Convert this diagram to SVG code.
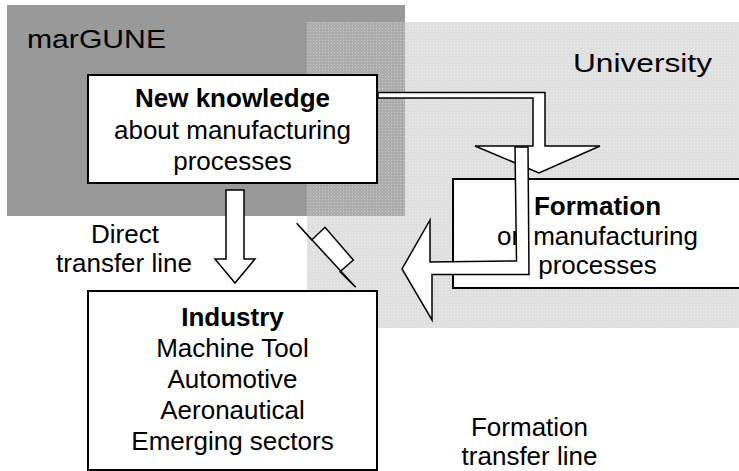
<svg xmlns="http://www.w3.org/2000/svg" width="739" height="471" viewBox="0 0 739 471">
  <defs>
    <pattern id="dots" width="3" height="3" patternUnits="userSpaceOnUse">
      <rect width="3" height="3" fill="#c0c0c0" fill-opacity="0.5"/>
      <rect x="1" y="1" width="1" height="1" fill="#ffffff" fill-opacity="0.35"/>
    </pattern>
  </defs>
  <style>
    text { font-family: "Liberation Sans", Arial, sans-serif; font-size: 26px; fill: #000; }
    .b { font-weight: bold; }
    .c { text-anchor: middle; }
    .box { fill: #fff; stroke: #000; stroke-width: 2; }
    .arr { fill: #fff; stroke: #000; stroke-width: 1.5; stroke-linejoin: miter; }
  </style>
  <rect width="739" height="471" fill="#fff"/>

  <g id="marGUNE">
    <rect x="7" y="5" width="398" height="211" fill="#999999"/>
    <text x="27" y="48" font-size="27" textLength="139" lengthAdjust="spacingAndGlyphs">marGUNE</text>
  </g>

  <g id="University">
    <rect x="307" y="22" width="440" height="306" fill="url(#dots)"/>
    <text x="573" y="72" font-size="27" textLength="139" lengthAdjust="spacingAndGlyphs">University</text>
  </g>

  <g id="new-knowledge">
    <rect class="box" x="88" y="75" width="289" height="108"/>
    <text class="b c" x="232.5" y="107">New knowledge</text>
    <text class="c" x="232.5" y="139">about manufacturing</text>
    <text class="c" x="232.5" y="170">processes</text>
  </g>

  <g id="formation">
    <rect class="box" x="453" y="179" width="300" height="109"/>
    <text class="b c" x="597.5" y="215">Formation</text>
    <text class="c" x="597.5" y="245">on manufacturing</text>
    <text class="c" x="597.5" y="274">processes</text>
  </g>

  <g id="industry">
    <rect class="box" x="88" y="291" width="289" height="179"/>
    <text class="b c" x="232.5" y="326">Industry</text>
    <text class="c" x="232.5" y="357">Machine Tool</text>
    <text class="c" x="232.5" y="388">Automotive</text>
    <text class="c" x="232.5" y="419">Aeronautical</text>
    <text class="c" x="232.5" y="450">Emerging sectors</text>
  </g>

  <g id="labels">
    <text class="c" x="125" y="243">Direct</text>
    <text class="c" x="124" y="272">transfer line</text>
    <text class="c" x="529.5" y="436">Formation</text>
    <text class="c" x="529.5" y="465">transfer line</text>
  </g>

  <g id="connectors">
    <polygon class="arr" points="226,190 244,190 244,259 255,259 235,283 215,259 226,259"/>
    <polygon class="arr" points="378,92.5 545,92.5 545,146 600,146 539,173 475,146 533,146 533,98 378,98"/>
    <polygon class="arr" points="515,147 528,147 529,274.5 432,274.5 432,320 402,269 430,220 430,262 516.5,261"/>
    <path class="arr" d="M296.7,223.3 L311.7,240 L325,227.3 L353.3,260 L340,271.7 L355.7,287.3 Z"/>
  </g>
</svg>
